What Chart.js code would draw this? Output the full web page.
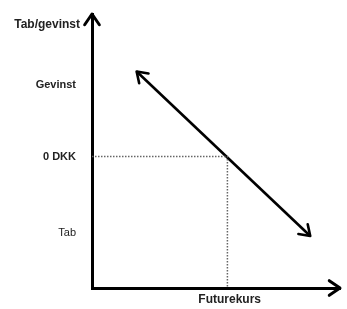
<!DOCTYPE html>
<html><head><meta charset="utf-8">
<script src="https://cdn.jsdelivr.net/npm/chart.js@4.4.0/dist/chart.umd.min.js"></script>
<style>html,body{margin:0;padding:0;background:#fff}#wrap{width:347px;height:309px;position:relative}</style>
</head><body><div id="wrap"><canvas id="c"></canvas></div>
<script>
// ---- data ----
const yTickValues = [26, 0, -28];
const yTickLabels = ['Gevinst', '0 DKK', 'Tab'];
const payoffX = [18, 88];
const payoffY = [31, -29];
const breakevenX = [0, 54.6, 54.6];
const breakevenY = [0, 0, -48];
const xAxisTitle = 'Futurekurs';
const yAxisTitle = 'Tab/gevinst';

const FONT = '"Liberation Sans", Arial, sans-serif';

function toPts(xs, ys){ return xs.map((x,i)=>({x:x, y:ys[i]})); }

const arrows = {
  id: 'arrows',
  afterDatasetsDraw(chart){
    const ctx = chart.ctx, a = chart.chartArea;
    ctx.save();
    ctx.strokeStyle = '#000';
    ctx.lineCap = 'round';
    ctx.lineJoin = 'round';
    function head(tx, ty, ang, len, spread, w){
      ctx.lineWidth = w;
      ctx.beginPath();
      ctx.moveTo(tx - len*Math.cos(ang-spread), ty - len*Math.sin(ang-spread));
      ctx.lineTo(tx, ty);
      ctx.lineTo(tx - len*Math.cos(ang+spread), ty - len*Math.sin(ang+spread));
      ctx.stroke();
    }
    head(a.left, a.top, -Math.PI/2, 13, 0.6, 3);
    head(a.right, a.bottom, 0, 13, 0.6, 3);
    const meta = chart.getDatasetMeta(1);
    const p0 = meta.data[0], p1 = meta.data[1];
    const ang = Math.atan2(p1.y - p0.y, p1.x - p0.x);
    head(p1.x, p1.y, ang, 12, 0.6, 2.6);
    head(p0.x, p0.y, ang + Math.PI, 12, 0.6, 2.6);
    ctx.fillStyle = '#222';
    ctx.font = 'bold 12px ' + FONT;
    ctx.textBaseline = 'middle';
    ctx.textAlign = 'right';
    ctx.fillText(yAxisTitle, a.left - 12, a.top + 11);
    ctx.textAlign = 'center';
    ctx.fillText(xAxisTitle, a.left + (a.right - a.left)*0.555, a.bottom + 12);
    ctx.restore();
  }
};

new Chart(document.getElementById('c'), {
  type: 'scatter',
  data: {
    datasets: [
      { data: toPts(breakevenX, breakevenY), showLine: true, borderColor: '#666', borderWidth: 1.5,
        borderDash: [1.5, 1.5], pointRadius: 0, fill: false },
      { data: toPts(payoffX, payoffY), showLine: true, borderColor: '#000', borderWidth: 2.6,
        pointRadius: 0, fill: false }
    ]
  },
  options: {
    responsive: true, maintainAspectRatio: false, animation: false,
    layout: { padding: { left: 0, top: 14, right: 7, bottom: 0 } },
    plugins: { legend: { display: false }, tooltip: { enabled: false }, title: { display: false } },
    scales: {
      x: {
        type: 'linear', min: 0, max: 100,
        grid: { display: false, drawTicks: false },
        border: { display: true, color: '#000', width: 3 },
        ticks: { display: false },
        afterFit: s => { s.height = 21; s.paddingLeft = 0; s.paddingRight = 0; }
      },
      y: {
        type: 'linear', min: -48, max: 52,
        grid: { display: false, drawTicks: false },
        border: { display: true, color: '#000', width: 3 },
        afterBuildTicks: s => { s.ticks = yTickValues.map(v => ({ value: v })); },
        afterFit: s => { s.width = 92; s.paddingTop = 0; s.paddingBottom = 0; },
        ticks: {
          padding: 16, color: '#222',
          font: c => ({ family: FONT, size: 11, weight: (c.tick && c.tick.value < 0) ? 'normal' : 'bold' }),
          callback: v => { const i = yTickValues.indexOf(v); return i >= 0 ? yTickLabels[i] : ''; }
        }
      }
    }
  },
  plugins: [arrows]
});
</script>
</body></html>
